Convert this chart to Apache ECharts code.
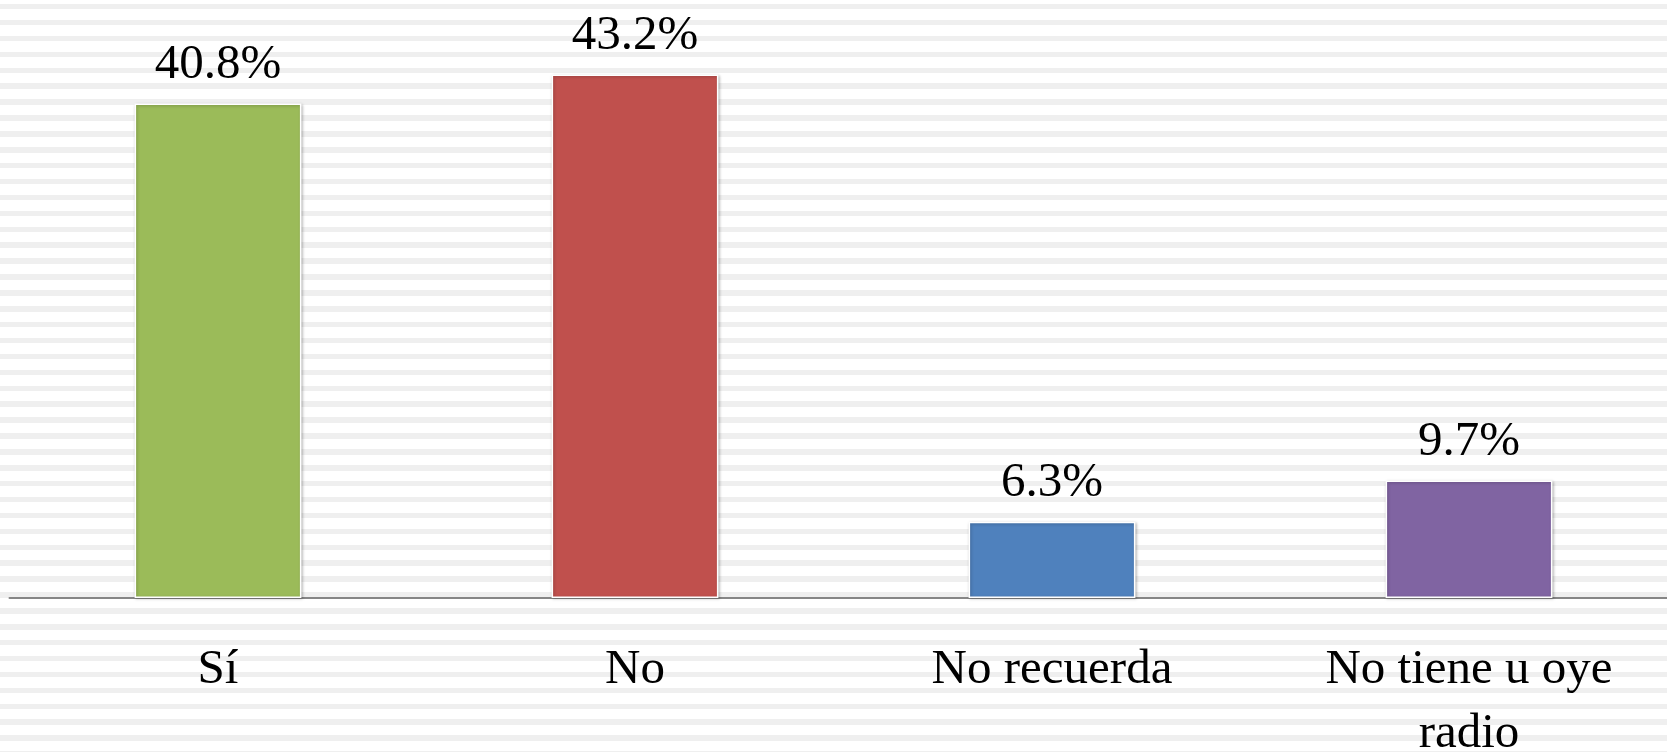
<!DOCTYPE html>
<html>
<head>
<meta charset="utf-8">
<script src="https://cdn.jsdelivr.net/npm/echarts@6/dist/echarts.min.js"></script>
<style>
  html, body { margin: 0; padding: 0; }
  /* fondo rayado como la diapositiva original */
  body {
    background: repeating-linear-gradient(to bottom,
      #ffffff 0px, #ffffff 4px,
      #efefef 4px, #efefef 9.5px,
      #ffffff 9.5px, #ffffff 15.9px);
  }
</style>
</head>
<body>
<div id="main" style="width: 1667px; height: 752px"></div>
<script>
// datos del gráfico
const categorias = ["Sí", "No", "No recuerda", "No tiene u oye radio"];
const porcentajes = [40.8, 43.2, 6.3, 9.7];
const colores = ["#9BBB59", "#C0504D", "#4F81BD", "#8064A2"];

let myChart = echarts.init(document.getElementById("main"));
let option = {
  backgroundColor: "transparent",
  animation: false,
  grid: {
    left: 9.5,
    top: 52.6,
    width: 1668,
    bottom: 154,
    containLabel: false,
    outerBoundsMode: "none",
  },
  xAxis: {
    type: "category",
    data: categorias,
    axisLine: { lineStyle: { color: "#868686", width: 2 } },
    axisTick: { show: false },
    axisLabel: {
      interval: 0,
      margin: 40,
      color: "#000",
      fontFamily: "Liberation Serif",
      fontSize: 49,
      lineHeight: 64,
      formatter: (v) => (v === "No tiene u oye radio" ? "No tiene u oye\nradio" : v),
    },
  },
  yAxis: {
    type: "value",
    min: 0,
    max: 45,
    show: false,
    splitLine: { show: false },
  },
  series: [
    {
      type: "bar",
      barWidth: "40%",
      data: porcentajes.map((v, i) => ({
        value: v,
        itemStyle: { color: colores[i] },
      })),
      itemStyle: {
        borderColor: "#ffffff",
        borderWidth: 1.5,
        shadowColor: "rgba(0,0,0,0.25)",
        shadowBlur: 3,
        shadowOffsetX: 1,
        shadowOffsetY: 1,
      },
      label: {
        show: true,
        position: "top",
        distance: 14,
        color: "#000",
        fontFamily: "Liberation Serif",
        fontSize: 49,
        formatter: (p) => p.value.toFixed(1) + "%",
      },
    },
  ],
};
myChart.setOption(option);
</script>
</body>
</html>
